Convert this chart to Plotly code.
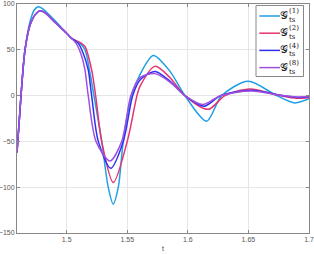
import plotly.graph_objects as go

# ---- data ----
t_g1 = [1.459, 1.4623, 1.4656, 1.470, 1.4735, 1.4768, 1.480, 1.4903, 1.500, 1.5041, 1.511, 1.5151,
        1.5192, 1.5225, 1.5289, 1.5343, 1.5384, 1.5426, 1.5467, 1.5535, 1.5605, 1.5715, 1.585,
        1.5976, 1.6155, 1.6279, 1.6498, 1.6733, 1.6883, 1.700]
y_g1 = [-62, 0, 50, 82, 94, 97, 95, 82, 68, 62.5, 57, 50,
        25, 0, -50, -100, -118.5, -100, -50, 0, 23, 43.8, 27,
        0, -28, 0, 15.6, 0, -8, -3.5]

t_g2 = [1.459, 1.4623, 1.4656, 1.470, 1.475, 1.4785, 1.482, 1.4903, 1.500, 1.5041, 1.511, 1.5151,
        1.5206, 1.5239, 1.5289, 1.5385, 1.550, 1.558, 1.5605, 1.5729, 1.585, 1.5976,
        1.6168, 1.6306, 1.6512, 1.676, 1.690, 1.700]
y_g2 = [-62, 0, 50, 78, 90, 92.7, 90.5, 80, 68, 62.5, 58, 53.6,
        28, 0, -50, -95, -50, 0, 10, 31.9, 20, 0,
        -15, 0, 7.2, 0, -3, -2]

t_g4 = [1.459, 1.4623, 1.4656, 1.470, 1.475, 1.4785, 1.482, 1.4903, 1.500, 1.5041, 1.5096, 1.5137,
        1.5178, 1.5206, 1.5261, 1.5363, 1.5467, 1.5545, 1.5605, 1.5729, 1.585, 1.5976,
        1.6135, 1.627, 1.6525, 1.678, 1.690, 1.700]
y_g4 = [-62, 0, 50, 78, 90, 92.7, 90.5, 80, 68, 62.5, 57, 46,
        28, 0, -50, -79.3, -50, 0, 17, 26.4, 16, 0,
        -11.6, 0, 5.8, 0, -2, -1.5]

t_g8 = [1.459, 1.4623, 1.4656, 1.470, 1.475, 1.4785, 1.482, 1.4903, 1.500, 1.5041, 1.5083, 1.5124,
        1.5151, 1.5178, 1.5242, 1.5357, 1.5454, 1.553, 1.5605, 1.5729, 1.585, 1.5976,
        1.6125, 1.627, 1.6525, 1.678, 1.690, 1.700]
y_g8 = [-62, 0, 50, 78, 90, 92.7, 90.5, 80, 68, 62.5, 56, 43,
        28, 0, -50, -71.4, -50, 0, 19.6, 24, 15, 0,
        -9.8, 0, 5, 0, -1.5, -1]

series_sup = ["(1)", "(2)", "(4)", "(8)"]
series_sub = "ts"
series_symbol = "𝒢"
colors = ["#1f9fe6", "#e6336e", "#3030f0", "#a050e0"]

x_ticks = [1.5, 1.55, 1.6, 1.65, 1.7]
x_ticklabels = ["1.5", "1.55", "1.6", "1.65", "1.7"]
y_ticks = [-150, -100, -50, 0, 50, 100]

fig = go.Figure()
for t, y, c, s in zip([t_g1, t_g2, t_g4, t_g8], [y_g1, y_g2, y_g4, y_g8], colors, series_sup):
    fig.add_trace(go.Scatter(x=t, y=y, mode="lines", name=series_symbol + s, showlegend=False,
                             line=dict(color=c, width=1.5, shape="spline", smoothing=0.8)))

tick_font = dict(family="Liberation Sans, Arial, sans-serif", size=7, color="#555555")
axis_common = dict(showline=True, linecolor="#888888", linewidth=1, mirror="ticks",
                   ticks="inside", ticklen=3, tickcolor="#888888", automargin=False,
                   showgrid=True, gridcolor="#e6e6e6", gridwidth=1, zeroline=False,
                   tickfont=tick_font, ticklabeloverflow="allow")

fig.update_xaxes(range=[1.459, 1.7], tickvals=x_ticks, ticktext=x_ticklabels, **axis_common)
fig.update_yaxes(range=[-150, 100], tickvals=y_ticks, **axis_common)

# plot area: l=17, r=5, t=4, b=21 on a 314x254 page
L, R, T, B, W, H = 17, 5, 4, 21, 314, 254
pw, ph = W - L - R, H - T - B
def px(xp):
    return (xp - L) / pw
def py(yp):
    return (H - B - yp) / ph

shapes = []
annotations = []
# legend box
shapes.append(dict(type="rect", xref="paper", yref="paper",
                   x0=px(256), x1=px(303.5), y0=py(76.5), y1=py(5.5),
                   line=dict(color="#888888", width=1), fillcolor="white", layer="above"))
serif = "DejaVu Serif, Noto Sans, serif"
for i, (c, s) in enumerate(zip(colors, series_sup)):
    yl = 16 + i * 17.2
    shapes.append(dict(type="line", xref="paper", yref="paper",
                       x0=px(259.3), x1=px(280), y0=py(yl), y1=py(yl),
                       line=dict(color=c, width=1.5), layer="above"))
    annotations.append(dict(xref="paper", yref="paper", x=px(283.7), y=py(yl - 0.5),
                            text=series_symbol, showarrow=False, xanchor="center", yanchor="middle",
                            font=dict(family=serif, size=11, color="#222222")))
    annotations.append(dict(xref="paper", yref="paper", x=px(287), y=py(yl - 4.8),
                            text=s, showarrow=False, xanchor="left", yanchor="middle",
                            font=dict(family=serif, size=7, color="#222222")))
    annotations.append(dict(xref="paper", yref="paper", x=px(287), y=py(yl + 4.0),
                            text=series_sub, showarrow=False, xanchor="left", yanchor="middle",
                            font=dict(family=serif, size=7, color="#222222")))

# x-axis title
annotations.append(dict(xref="paper", yref="paper", x=0.5, y=py(248), text="t", showarrow=False,
                        xanchor="center", yanchor="middle",
                        font=dict(family="Liberation Sans, Arial", size=7, color="#444444")))

fig.update_layout(
    width=W, height=H,
    margin=dict(l=L, r=R, t=T, b=B),
    paper_bgcolor="white", plot_bgcolor="white",
    showlegend=False,
    shapes=shapes, annotations=annotations,
)

fig.write_html("out.html", config={"displayModeBar": False},
               post_script="document.body.style.margin='0';document.body.style.overflow='hidden';")
